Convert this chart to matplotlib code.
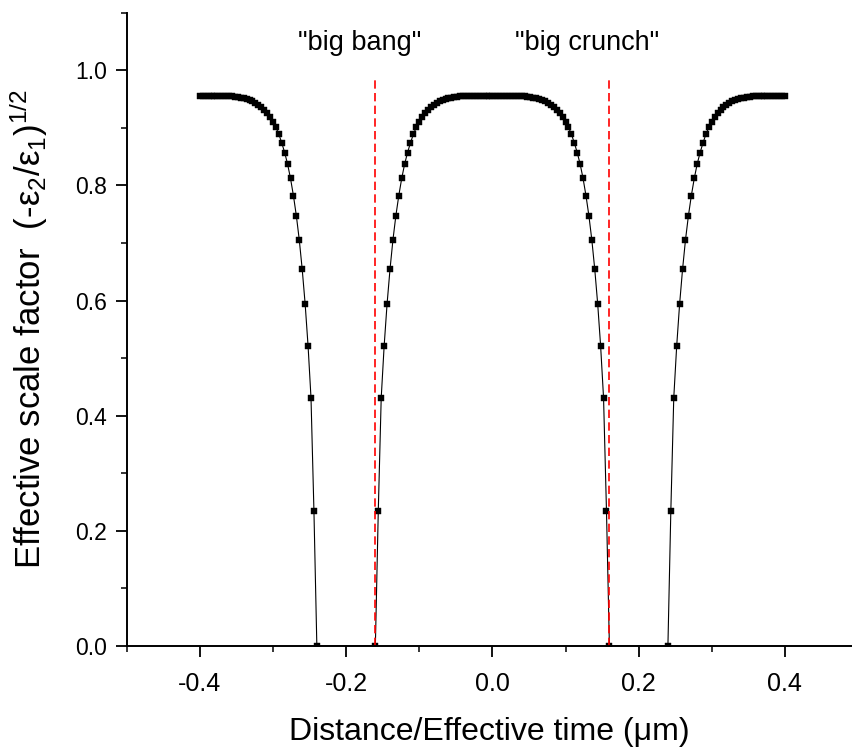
import numpy as np
import matplotlib
matplotlib.use("Agg")
import matplotlib.pyplot as plt
from matplotlib.ticker import MultipleLocator, FormatStrFormatter

# ---- data ----
step = 0.004                      # x spacing of the sampled points
zero_points = [-0.24, -0.16, 0.16, 0.24]   # where the scale factor drops to zero
# scale factor as a function of distance d from the nearest zero (d = 0, 0.004, ... 0.16)
profile = [0.000, 0.235, 0.431, 0.521, 0.594, 0.654, 0.705, 0.747, 0.782, 0.812,
           0.837, 0.857, 0.874, 0.889, 0.901, 0.910, 0.918, 0.925, 0.931, 0.936,
           0.940, 0.943, 0.946, 0.948, 0.950, 0.951, 0.952, 0.953, 0.954, 0.9545,
           0.955, 0.955, 0.9555, 0.9555, 0.956, 0.956, 0.956, 0.956, 0.956, 0.956,
           0.956]
bang_x = -0.16
crunch_x = 0.16
marker_top = 0.985
labels = ['"big bang"', '"big crunch"']
label_pos = [(-0.181, 1.048), (0.129, 1.048)]
xticks = [-0.4, -0.2, 0.0, 0.2, 0.4]
yticks = [0.0, 0.2, 0.4, 0.6, 0.8, 1.0]

prof = np.array(profile)
d = np.arange(len(prof)) * step
x1 = zero_points[0] - d[::-1]; y1 = prof[::-1]
x2 = zero_points[1] + d;       y2 = prof
x3 = zero_points[2] - d[::-1]; y3 = prof[::-1]
x4 = zero_points[3] + d;       y4 = prof
x = np.concatenate([x1, x2, x3[1:], x4])
y = np.concatenate([y1, y2, y3[1:], y4])

plt.rcParams['font.family'] = ['Liberation Sans', 'DejaVu Sans']
plt.rcParams['mathtext.fontset'] = 'custom'
plt.rcParams['mathtext.rm'] = 'Liberation Sans'
plt.rcParams['mathtext.it'] = 'Liberation Sans:italic'

fig = plt.figure(figsize=(8.52, 7.55), dpi=100)
ax = fig.add_axes([0.1487, 0.1444, 1.0 - 0.1487, 0.9832 - 0.1444])

ax.plot(x, y, color='black', lw=0.8, marker='s', ms=4.0, mfc='black', mec='black', mew=0.3)

for xv in (bang_x, crunch_x):
    ax.plot([xv, xv], [0, marker_top], color='#ff0000', lw=1.2, ls=(0, (5, 2.6)))

for t, (tx, ty) in zip(labels, label_pos):
    ax.text(tx, ty, t, ha='center', va='center', fontsize=19.5)

ax.set_xlim(-0.5, 0.4917)
ax.set_ylim(0, 1.1)
ax.set_xticks(xticks)
ax.set_yticks(yticks)
ax.xaxis.set_minor_locator(MultipleLocator(0.1))
ax.yaxis.set_minor_locator(MultipleLocator(0.1))
ax.xaxis.set_major_formatter(FormatStrFormatter('%.1f'))
ax.yaxis.set_major_formatter(FormatStrFormatter('%.1f'))

for s in ('top', 'right'):
    ax.spines[s].set_visible(False)
for s in ('left', 'bottom'):
    ax.spines[s].set_linewidth(1.4)

ax.tick_params(which='major', direction='out', length=8, width=1.3)
ax.tick_params(which='minor', direction='out', length=4, width=1.1)
ax.tick_params(axis='y', which='major', labelsize=16.5, pad=6)
ax.tick_params(axis='x', which='major', labelsize=18, pad=11)

ax.set_xlabel('Distance/Effective time (\u03bcm)', fontsize=23, labelpad=15)
ax.set_ylabel('Effective scale factor  (-\u03b5$_2$/\u03b5$_1$)$^{1/2}$', fontsize=25,
              labelpad=18)

fig.savefig('out.png', dpi=100)
